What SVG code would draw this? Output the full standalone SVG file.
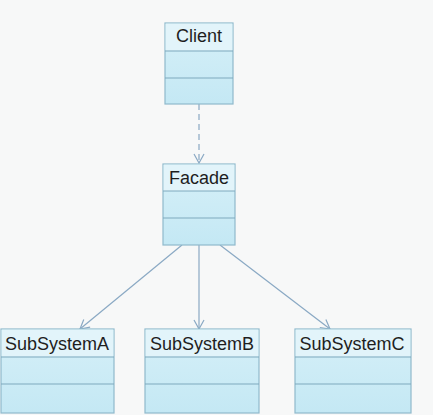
<svg xmlns="http://www.w3.org/2000/svg" width="433" height="415" viewBox="0 0 433 415">
<defs>
<style>
.box{fill:url(#g);stroke:#8fb9cc;stroke-width:1.2}
.div{stroke:#7fa9bd;stroke-width:1.2}
.hdr{fill:#e2f4fa}
.t{font-family:"Liberation Sans",Arial,sans-serif;font-size:18px;fill:#1e1e1e;text-anchor:middle}
.c{stroke:#8aa9c4;stroke-width:1.2;fill:none}
</style>
<linearGradient id="g" x1="0" y1="0" x2="0" y2="1">
<stop offset="0" stop-color="#d6f0f8"/>
<stop offset="1" stop-color="#c4e8f4"/>
</linearGradient>
<marker id="a" markerWidth="12" markerHeight="12" refX="10" refY="6" orient="auto" markerUnits="userSpaceOnUse">
<path d="M1,1 L10,6 L1,11" fill="none" stroke="#8aa9c4" stroke-width="1.2"/>
</marker>
</defs>
<rect width="433" height="415" fill="#f7f8f8"/>
<g id="connectors">
<line class="c" x1="199" y1="104" x2="199" y2="163" stroke-dasharray="6,4" marker-end="url(#a)"/>
<line class="c" x1="182" y1="245" x2="80" y2="329" marker-end="url(#a)"/>
<line class="c" x1="199" y1="245" x2="199" y2="329" marker-end="url(#a)"/>
<line class="c" x1="220" y1="245" x2="330" y2="329" marker-end="url(#a)"/>
</g>
<g id="client">
<rect class="box" x="165" y="23" width="68" height="81"/>
<rect class="hdr" x="165.6" y="23.6" width="66.8" height="27"/>
<line class="div" x1="165" y1="51" x2="233" y2="51"/>
<line class="div" x1="165" y1="78" x2="233" y2="78"/>
<text class="t" x="199" y="42">Client</text>
</g>
<g id="facade">
<rect class="box" x="163" y="164" width="72" height="81"/>
<rect class="hdr" x="163.6" y="164.6" width="70.8" height="26.5"/>
<line class="div" x1="163" y1="191" x2="235" y2="191"/>
<line class="div" x1="163" y1="218" x2="235" y2="218"/>
<text class="t" x="199" y="184">Facade</text>
</g>
<g id="subsystemA">
<rect class="box" x="1" y="329" width="113" height="84"/>
<rect class="hdr" x="1.6" y="329.6" width="111.8" height="27"/>
<line class="div" x1="1" y1="357" x2="114" y2="357"/>
<line class="div" x1="1" y1="384" x2="114" y2="384"/>
<text class="t" x="57" y="350">SubSystemA</text>
</g>
<g id="subsystemB">
<rect class="box" x="145" y="329" width="114" height="84"/>
<rect class="hdr" x="145.6" y="329.6" width="112.8" height="27"/>
<line class="div" x1="145" y1="357" x2="259" y2="357"/>
<line class="div" x1="145" y1="384" x2="259" y2="384"/>
<text class="t" x="202" y="350">SubSystemB</text>
</g>
<g id="subsystemC">
<rect class="box" x="295" y="329" width="116" height="84"/>
<rect class="hdr" x="295.6" y="329.6" width="114.8" height="27"/>
<line class="div" x1="295" y1="357" x2="411" y2="357"/>
<line class="div" x1="295" y1="384" x2="411" y2="384"/>
<text class="t" x="352" y="350">SubSystemC</text>
</g>
</svg>
